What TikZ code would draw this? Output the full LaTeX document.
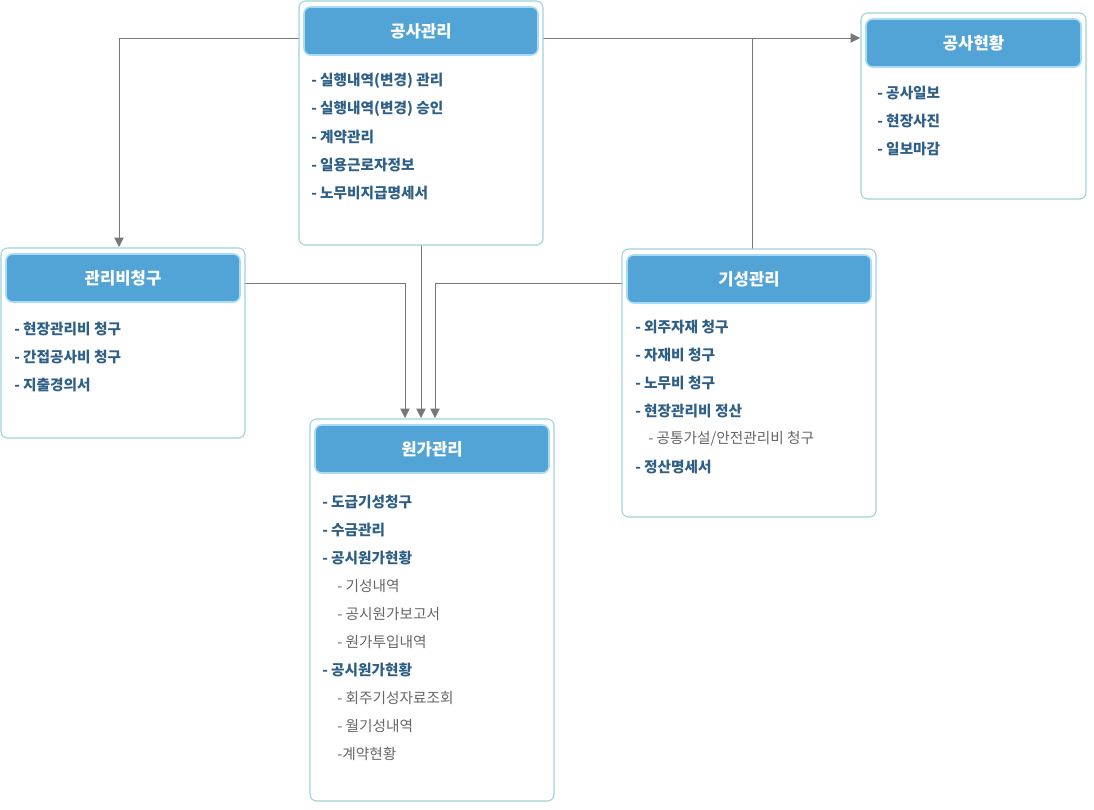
\documentclass[tikz,border=0pt]{standalone}
\usepackage{fontspec}
\setmainfont{Noto Sans CJK KR}
\usetikzlibrary{arrows.meta}
\definecolor{hdr}{HTML}{52A3D6}
\definecolor{hdrb}{HTML}{A8DCF5}
\definecolor{boxb}{HTML}{9FD3D6}
\definecolor{itm}{HTML}{2E5F86}
\definecolor{sub}{HTML}{666666}
\definecolor{ln}{HTML}{777777}
\tikzset{
 outer/.style={draw=boxb,line width=0.8pt,rounded corners=5pt,fill=white},
 hdrbox/.style={draw=hdrb,line width=1.2pt,rounded corners=5pt,fill=hdr},
 htext/.style={text=white,font=\fontsize{12.5}{14}\selectfont\bfseries},
 item/.style={anchor=west,inner sep=0,text=itm,font=\fontsize{11}{13}\selectfont\bfseries},
 subitem/.style={anchor=west,inner sep=0,text=sub,font=\fontsize{11}{13}\selectfont},
 conn/.style={draw=ln,line width=0.6pt},
 arr/.style={conn,-{Triangle[length=7pt,width=7pt]}}
}
\begin{document}
\begin{tikzpicture}[x=0.75pt,y=-0.75pt]
\useasboundingbox (0,0) rectangle (1094,809);
% connectors (behind)
\coordinate (k1) at (119,38);
\coordinate (k2) at (752,38);
\coordinate (k3) at (405,283);
\coordinate (k4) at (435,283);
% boxes
\newcommand\mybox[7]{%
 \draw[outer] (#1,#2) rectangle (#3,#4);
 \node[htext] (#7) at ({(#1+#3)/2},{#2+30}) {#5};
 \draw[hdrbox] ({#1+5},{#2+6}) rectangle ({#3-5},{#2+54});
 \node[htext] at ({(#1+#3)/2},{#2+30}) {#5};
 #6}
\draw[conn] (299,38) -- (k1);
\draw[arr] (k1) -- (119,247);
\draw[arr] (543,38) -- (860,38);
\draw[conn] (752,249) -- (k2);
\draw[arr] (421,245) -- (421,418);
\draw[conn] (245,283) -- (k3);
\draw[arr] (k3) -- (405,418);
\draw[conn] (622,283) -- (k4);
\draw[arr] (k4) -- (435,418);
\mybox{299}{1}{543}{245}{공사관리}{%
 \node[item] at (311,81) {- 실행내역(변경) 관리};
 \node[item] at (311,109) {- 실행내역(변경) 승인};
 \node[item] at (311,137) {- 계약관리};
 \node[item] at (311,165) {- 일용근로자정보};
 \node[item] at (311,193) {- 노무비지급명세서};}{a}
\mybox{861}{13}{1086}{199}{공사현황}{%
 \node[item] at (877,93) {- 공사일보};
 \node[item] at (877,121) {- 현장사진};
 \node[item] at (877,149) {- 일보마감};}{b}
\mybox{1}{248}{245}{438}{관리비청구}{%
 \node[item] at (14,329) {- 현장관리비 청구};
 \node[item] at (14,357) {- 간접공사비 청구};
 \node[item] at (14,385) {- 지출경의서};}{c}
\mybox{622}{249}{876}{517}{기성관리}{%
 \node[item] at (635,327) {- 외주자재 청구};
 \node[item] at (635,355) {- 자재비 청구};
 \node[item] at (635,383) {- 노무비 청구};
 \node[item] at (635,411) {- 현장관리비 정산};
 \node[subitem] at (648,439) {- 공통가설/안전관리비 청구};
 \node[item] at (635,467) {- 정산명세서};}{d}
\mybox{310}{419}{554}{801}{원가관리}{%
 \node[item] at (322,502) {- 도급기성청구};
 \node[item] at (322,530) {- 수금관리};
 \node[item] at (322,558) {- 공시원가현황};
 \node[subitem] at (337,586) {- 기성내역};
 \node[subitem] at (337,614) {- 공시원가보고서};
 \node[subitem] at (337,642) {- 원가투입내역};
 \node[item] at (322,670) {- 공시원가현황};
 \node[subitem] at (337,698) {- 회주기성자료조회};
 \node[subitem] at (337,726) {- 월기성내역};
 \node[subitem] at (337,754) {-계약현황};}{e}
\end{tikzpicture}
\end{document}
